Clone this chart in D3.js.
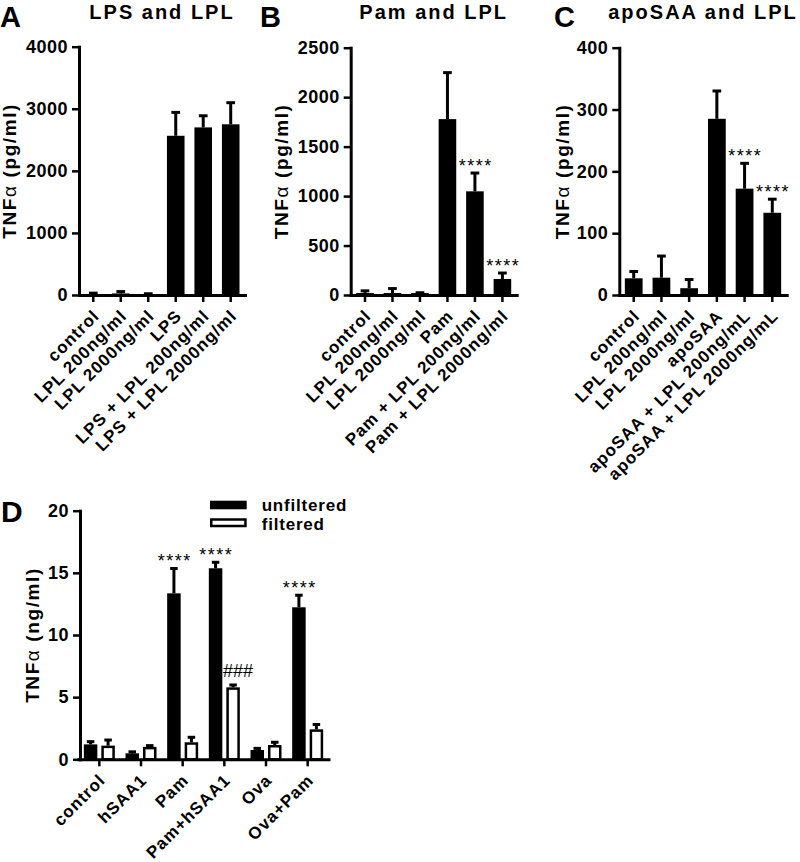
<!DOCTYPE html>
<html><head><meta charset="utf-8">
<script src="https://cdn.jsdelivr.net/npm/d3@7"></script>
<style>
body{margin:0;background:#fff}
text{font-family:"Liberation Sans",Arial,Helvetica,sans-serif;fill:#000}
</style>
</head><body>
<svg id="c" width="800" height="862"></svg>
<script>
// ---------- data ----------
const catsA = ["control","LPL 200ng/ml","LPL 2000ng/ml","LPS","LPS + LPL 200ng/ml","LPS + LPL 2000ng/ml"];
const meanA = [15, 25, 10, 2565, 2700, 2750];
const semA  = [15, 30, 10, 377, 187, 348];
const ticksA = [0, 1000, 2000, 3000, 4000];
const annotA = ["", "", "", "", "", ""];

const catsB = ["control","LPL 200ng/ml","LPL 2000ng/ml","Pam","Pam + LPL 200ng/ml","Pam + LPL 2000ng/ml"];
const meanB = [20, 20, 20, 1778, 1048, 162];
const semB  = [22, 45, 3, 470, 185, 60];
const ticksB = [0, 500, 1000, 1500, 2000, 2500];
const annotB = ["", "", "", "", "****", "****"];

const catsC = ["control","LPL 200ng/ml","LPL 2000ng/ml","apoSAA","apoSAA + LPL 200ng/mL","apoSAA + LPL 2000ng/mL"];
const meanC = [27, 28, 11, 285, 172, 133];
const semC  = [11, 35, 14, 45, 41, 22];
const ticksC = [0, 100, 200, 300, 400];
const annotC = ["", "", "", "", "****", "****"];

const catsD = ["control","hSAA1","Pam","Pam+hSAA1","Ova","Ova+Pam"];
const seriesD = ["unfiltered","filtered"];
const unfD    = [1.2, 0.48, 13.35, 15.37, 0.75, 12.23];
const unfSemD = [0.22, 0.12, 2.0, 0.48, 0.13, 0.97];
const filD    = [1.1, 1.0, 1.37, 5.79, 1.15, 2.41];
const filSemD = [0.45, 0.1, 0.4, 0.19, 0.22, 0.39];
const ticksD = [0, 5, 10, 15, 20];
const annotUnfD = ["", "", "****", "****", "", "****"];
const annotFilD = ["", "", "", "###", "", ""];

// ---------- drawing ----------
const svg = d3.select("#c");
const FONT_TICK = 18, FONT_CAT = 17;

function yLabel(g, x, yc, unit){
  const t = g.append("text")
    .attr("transform", `translate(${x},${yc}) rotate(-90)`)
    .attr("text-anchor", "middle")
    .style("font-size", "19px").style("letter-spacing", "1.6px");
  t.append("tspan").style("font-weight", "bold").text("TNF");
  t.append("tspan").style("font-weight", "normal").text("α");
  t.append("tspan").style("font-weight", "bold").text(" (" + unit + ")");
}

function styleAxis(ax){
  ax.select(".domain").attr("stroke-width", 3).attr("stroke-linecap", "square");
  ax.selectAll(".tick line").attr("stroke-width", 2.5);
}

function starText(g, cx, ytop, txt){
  const isStar = txt[0] === "*";
  g.append("text")
    .attr("x", cx + (isStar ? 0.75 : 5))
    .attr("y", isStar ? ytop - 1 : ytop - 8)
    .attr("text-anchor", "middle")
    .style("font-size", "18px")
    .style("letter-spacing", isStar ? "1.5px" : "0px")
    .text(txt);
}

function errBar(g, cx, v, s, y, capW){
  g.append("line").attr("x1", cx).attr("x2", cx).attr("y1", y(v)).attr("y2", y(v + s))
    .attr("stroke", "#000").attr("stroke-width", 3);
  g.append("line").attr("x1", cx - capW/2).attr("x2", cx + capW/2).attr("y1", y(v + s)).attr("y2", y(v + s))
    .attr("stroke", "#000").attr("stroke-width", 3);
}

function catLabels(g, xs, y0, cats, dx, dy){
  cats.forEach(c => {
    g.append("text")
      .attr("transform", `translate(${xs(c) + dx},${y0 + dy}) rotate(-45)`)
      .attr("text-anchor", "end")
      .style("font-size", FONT_CAT + "px").style("font-weight", "bold").style("letter-spacing", "1px")
      .text(c);
  });
}

function simplePanel(o){
  const g = svg.append("g");
  const y = d3.scaleLinear().domain([0, o.ticks[o.ticks.length - 1]]).range([o.y0, o.yTop]);
  const x = d3.scaleBand().domain(o.cats).range([o.axX, o.axEnd]).paddingInner(0.36).paddingOuter(0.2);
  const bw = x.bandwidth();
  o.cats.forEach((c, i) => {
    g.append("rect").attr("x", x(c)).attr("width", bw)
      .attr("y", y(o.mean[i])).attr("height", o.y0 - y(o.mean[i])).attr("fill", "#000");
    errBar(g, x(c) + bw/2, o.mean[i], o.sem[i], y, 8.7);
    if (o.annot[i]) starText(g, x(c) + bw/2, y(o.mean[i] + o.sem[i]), o.annot[i]);
  });
  const ay = g.append("g").attr("transform", `translate(${o.axX},0)`)
    .call(d3.axisLeft(y).tickValues(o.ticks).tickSize(7).tickSizeOuter(0).tickPadding(4).tickFormat(d3.format("d")));
  styleAxis(ay);
  ay.selectAll(".tick text").style("font-size", FONT_TICK + "px").style("font-weight", "bold")
    .style("letter-spacing", "0.5px").attr("fill", "#000");
  const axb = g.append("g").attr("transform", `translate(0,${o.y0})`)
    .call(d3.axisBottom(x).tickSize(7).tickSizeOuter(0).tickFormat(""));
  styleAxis(axb);
  catLabels(g, d => x(d) + bw/2, o.y0, o.cats, 7, 22);
  g.append("text").attr("x", (o.axX + o.axEnd)/2).attr("y", 19).attr("text-anchor", "middle")
    .style("font-size", "20px").style("font-weight", "bold").style("letter-spacing", "2px").text(o.title);
  g.append("text").attr("x", o.letterX).attr("y", 27)
    .style("font-size", "29px").style("font-weight", "bold").text(o.letter);
  yLabel(g, o.labelX, (o.y0 + o.yTop)/2, "pg/ml");
}

simplePanel({cats: catsA, mean: meanA, sem: semA, ticks: ticksA, annot: annotA,
  axX: 79, axEnd: 245, y0: 295, yTop: 46.7, title: "LPS and LPL", letter: "A", letterX: 0, labelX: 16});
simplePanel({cats: catsB, mean: meanB, sem: semB, ticks: ticksB, annot: annotB,
  axX: 350.7, axEnd: 516.7, y0: 295, yTop: 47.7, title: "Pam and LPL", letter: "B", letterX: 260, labelX: 288});
simplePanel({cats: catsC, mean: meanC, sem: semC, ticks: ticksC, annot: annotC,
  axX: 619.3, axEnd: 786.7, y0: 295, yTop: 47.7, title: "apoSAA and LPL", letter: "C", letterX: 554, labelX: 569});

// ---------- panel D ----------
(function(){
  const g = svg.append("g");
  const axX = 80, axEnd = 330, y0 = 759.3, yTop = 510.7;
  const y = d3.scaleLinear().domain([0, ticksD[ticksD.length - 1]]).range([y0, yTop]);
  const xg = d3.scaleBand().domain(catsD).range([axX - 1.5, axEnd - 1.5]);
  const xs = d3.scaleBand().domain(seriesD).range([0, 31]).paddingInner(0.2286);
  const bw = xs.bandwidth();
  const vals = {unfiltered: unfD, filtered: filD};
  const sems = {unfiltered: unfSemD, filtered: filSemD};
  const ann = {unfiltered: annotUnfD, filtered: annotFilD};
  catsD.forEach((c, i) => {
    const gc = xg(c) + xg.bandwidth()/2 - 15.5;
    seriesD.forEach(s => {
      const v = vals[s][i], bx = gc + xs(s);
      if (s === "unfiltered") {
        g.append("rect").attr("x", bx).attr("width", bw).attr("y", y(v)).attr("height", y0 - y(v)).attr("fill", "#000");
      } else {
        g.append("rect").attr("x", bx + 1.25).attr("width", bw - 2.5).attr("y", y(v) + 1.25)
          .attr("height", Math.max(0, y0 - y(v) - 1.25)).attr("fill", "#fff").attr("stroke", "#000").attr("stroke-width", 2.5);
      }
      errBar(g, bx + bw/2, v, sems[s][i], y, 7.5);
      if (ann[s][i]) starText(g, bx + bw/2, y(v + sems[s][i]), ann[s][i]);
    });
  });
  const ay = g.append("g").attr("transform", `translate(${axX},0)`)
    .call(d3.axisLeft(y).tickValues(ticksD).tickSize(7).tickSizeOuter(0).tickPadding(4).tickFormat(d3.format("d")));
  styleAxis(ay);
  ay.selectAll(".tick text").style("font-size", FONT_TICK + "px").style("font-weight", "bold")
    .style("letter-spacing", "0.5px").attr("fill", "#000");
  const axb = g.append("g").attr("transform", `translate(0,${y0})`)
    .call(d3.axisBottom(xg).tickSize(7).tickSizeOuter(0).tickFormat(""));
  styleAxis(axb);
  catLabels(g, d => xg(d) + xg.bandwidth()/2, y0, catsD, 7, 22);
  g.append("text").attr("x", 1).attr("y", 522).style("font-size", "30px").style("font-weight", "bold").text("D");
  yLabel(g, 39, (y0 + yTop)/2, "ng/ml");
  // legend
  const lg = g.append("g");
  lg.append("rect").attr("x", 210).attr("y", 500.7).attr("width", 36.7).attr("height", 8.6).attr("fill", "#000");
  lg.append("rect").attr("x", 211.25).attr("y", 519.5).attr("width", 34.2).attr("height", 6.5)
    .attr("fill", "#fff").attr("stroke", "#000").attr("stroke-width", 2.5);
  lg.selectAll("text.lg").data(seriesD).join("text").attr("class", "lg")
    .attr("x", 261.7).attr("y", (d, i) => 511 + i * 18.5)
    .style("font-size", "17px").style("font-weight", "bold").style("letter-spacing", "0.8px").text(d => d);
})();
</script>
</body></html>
